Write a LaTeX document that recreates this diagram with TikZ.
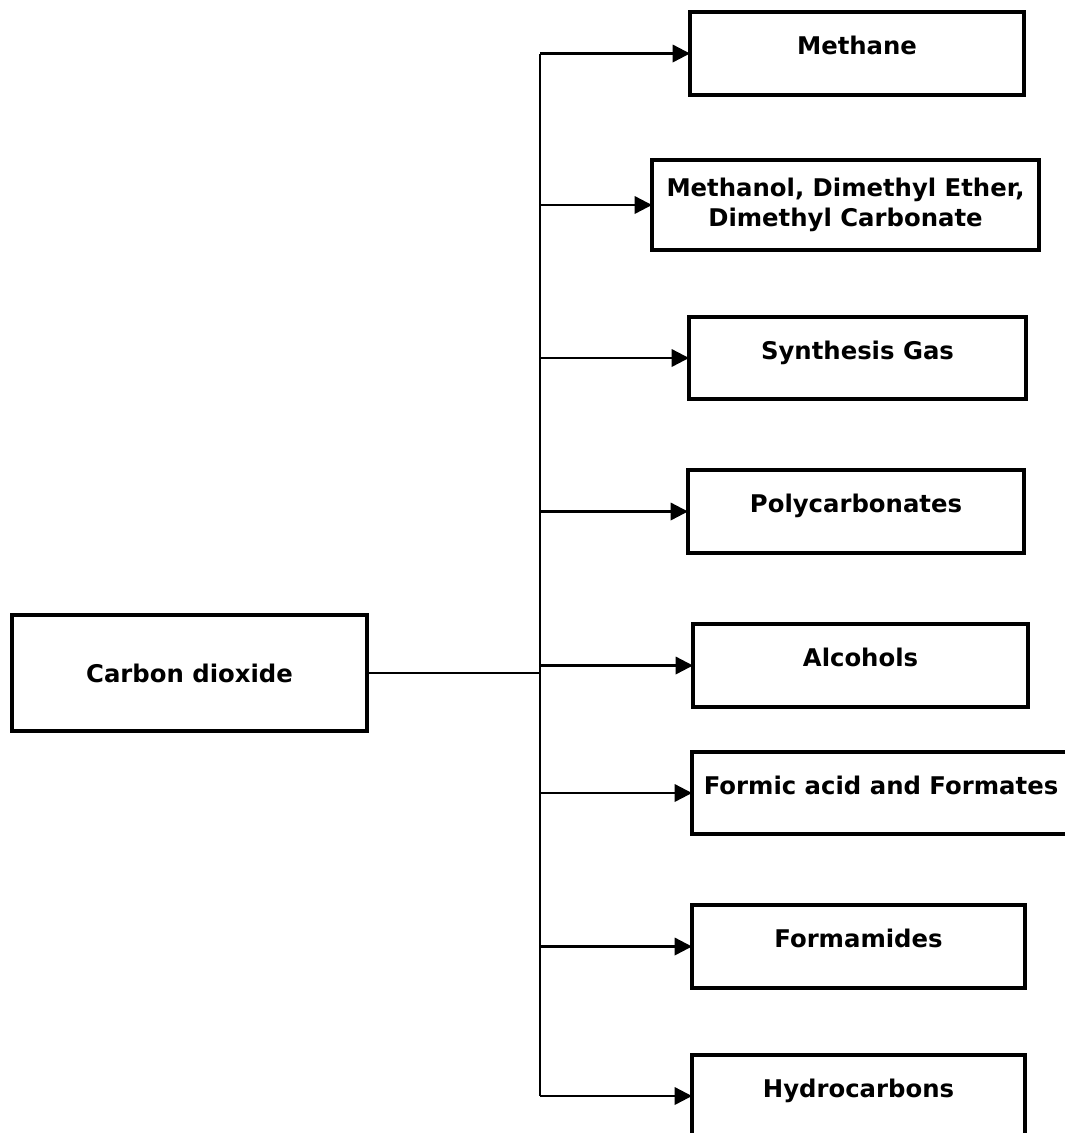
\documentclass[tikz,border=0pt]{standalone}
\usepackage{fontspec}
\setmainfont{DejaVu Sans}
\usetikzlibrary{arrows.meta, calc, positioning}

\begin{document}
\begin{tikzpicture}[
  x=0.75pt, y=-0.75pt,
  >={Triangle[length=13pt, width=13pt]},
  box/.style={draw, line width=2.3pt, inner sep=0pt, outer sep=0pt, fill=white,
    font=\fontsize{18.25}{22}\selectfont\bfseries},
  prod/.style={box, text height=12.5pt, text depth=10.5pt},
  link/.style={line width=1.8pt},
]
  \clip (0,0) rectangle (1065,1133);
  \fill[white] (0,0) rectangle (1065,1133);

  \node[box, minimum width=266.25pt, minimum height=87pt] (co2) at (189.5,673) {Carbon dioxide};

  \node[prod, minimum width=250.5pt, minimum height=62.25pt] (methane) at (857,53.5) {Methane};
  \node[box, align=center, minimum width=290.25pt, minimum height=67.5pt] (methanol) at (845.5,205)
    {Methanol, Dimethyl Ether,\\ Dimethyl Carbonate};
  \node[prod, minimum width=252.75pt, minimum height=61.5pt] (syngas) at (857.5,358) {Synthesis Gas};
  \node[prod, minimum width=252pt, minimum height=62.25pt] (polycarb) at (856,511.5) {Polycarbonates};
  \node[prod, minimum width=251.25pt, minimum height=62.25pt] (alcohols) at (860.5,665.5) {Alcohols};
  \node[prod, minimum width=283.5pt, minimum height=61.5pt] (formic) at (881,793) {Formic acid and Formates};
  \node[prod, minimum width=249.75pt, minimum height=62.25pt] (formamides) at (858.5,946.5) {Formamides};
  \node[prod, minimum width=249.75pt, minimum height=61.5pt] (hydro) at (858.5,1096) {Hydrocarbons};

  \coordinate (hub) at (540,673);
  \draw[link] (co2.east) -- (hub);
  \draw[link] (methane.west -| hub) -- (hydro.west -| hub);

  \foreach \prod in {methane, methanol, syngas, polycarb, alcohols, formic, formamides, hydro}
    \draw[link, ->] (\prod.west -| hub) -- (\prod.west);
\end{tikzpicture}
\end{document}
